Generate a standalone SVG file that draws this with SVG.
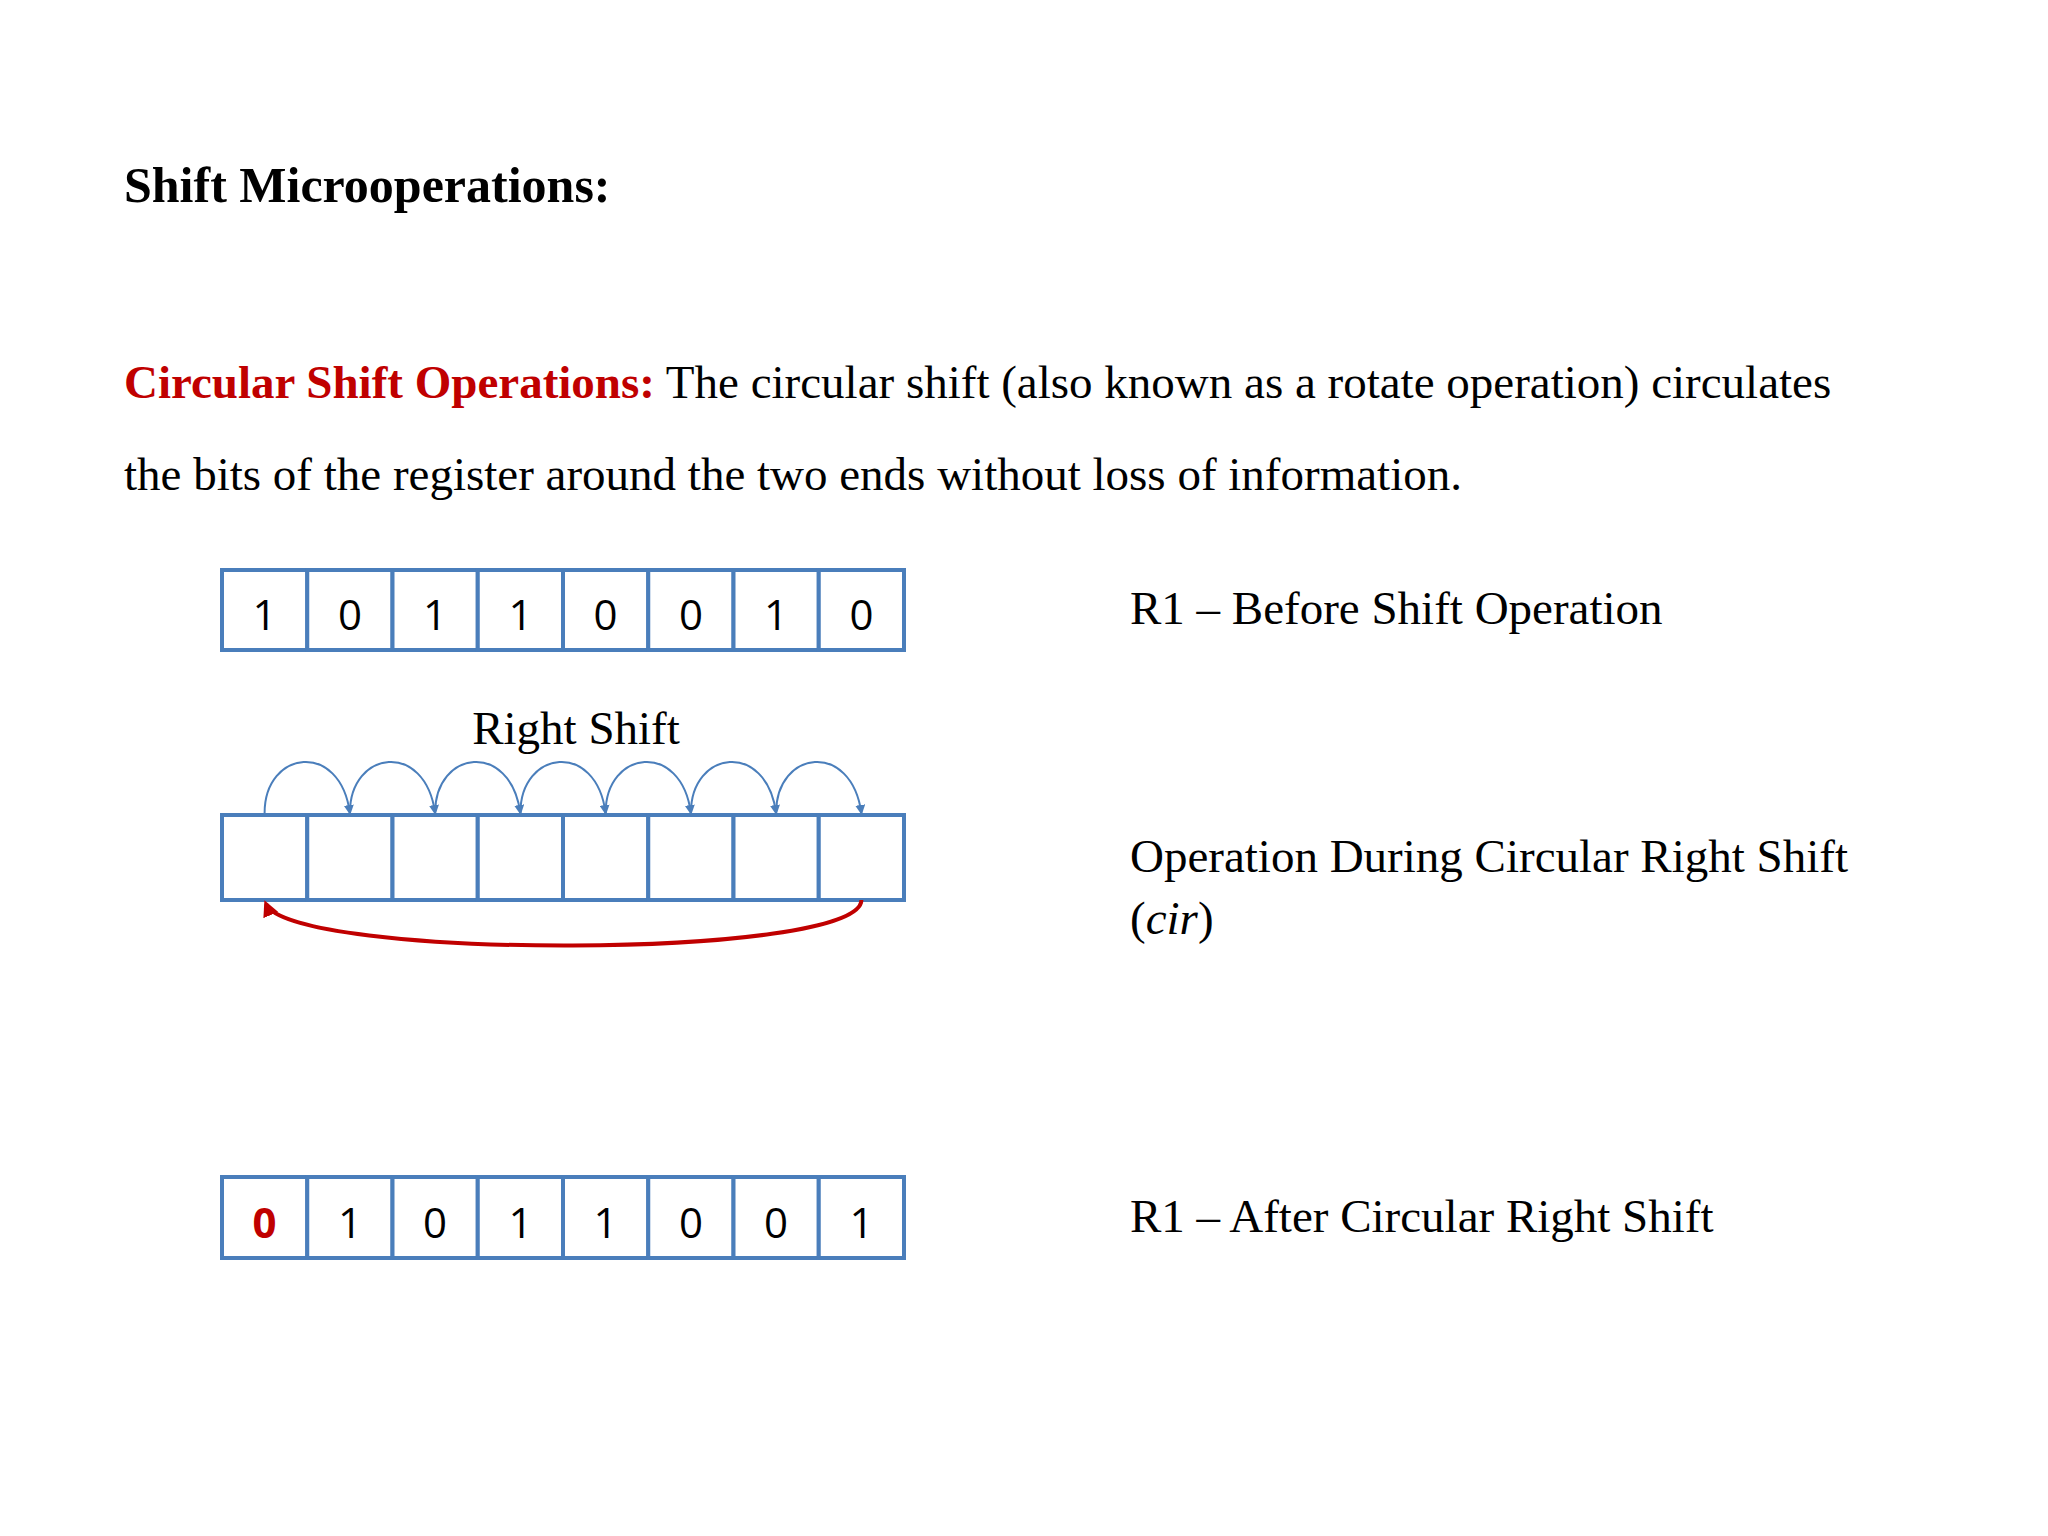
<svg xmlns="http://www.w3.org/2000/svg" width="2048" height="1536" viewBox="0 0 2048 1536">
<defs>
<style>
.t{font-family:"Liberation Serif",serif;font-size:47px;fill:#000}
.c{fill:#fff;stroke:#4A7EBB;stroke-width:4}
.d{font-family:"Open Sans","Liberation Sans",sans-serif;font-size:42px;text-anchor:middle;fill:#000}
.a{fill:none;stroke:#4A7EBB;stroke-width:2}
</style>
<marker id="ab" markerWidth="10" markerHeight="10" refX="8" refY="5" orient="auto" markerUnits="userSpaceOnUse" viewBox="0 0 10 10"><path d="M0,0 L10,5 L0,10 z" fill="#4A7EBB"/></marker>
<marker id="ar" markerWidth="16" markerHeight="16" refX="12" refY="8" orient="auto" markerUnits="userSpaceOnUse" viewBox="0 0 16 16"><path d="M0,0 L16,8 L0,16 z" fill="#C00000"/></marker>
</defs>
<rect width="2048" height="1536" fill="#fff"/>
<text class="t" x="124" y="202" style="font-weight:bold;font-size:50px">Shift Microoperations:</text>
<text class="t" x="124" y="398"><tspan style="font-weight:bold;fill:#C00000">Circular Shift Operations:</tspan> The circular shift (also known as a rotate operation) circulates</text>
<text class="t" x="124" y="490">the bits of the register around the two ends without loss of information.</text>
<g id="r1before">
<rect class="c" x="222" y="570" width="85.25" height="80"/><rect class="c" x="307.25" y="570" width="85.25" height="80"/><rect class="c" x="392.5" y="570" width="85.25" height="80"/><rect class="c" x="477.75" y="570" width="85.25" height="80"/><rect class="c" x="563" y="570" width="85.25" height="80"/><rect class="c" x="648.25" y="570" width="85.25" height="80"/><rect class="c" x="733.5" y="570" width="85.25" height="80"/><rect class="c" x="818.75" y="570" width="85.25" height="80"/>
<text class="d" x="264.6" y="630">1</text><text class="d" x="349.9" y="630">0</text><text class="d" x="435.1" y="630">1</text><text class="d" x="520.4" y="630">1</text><text class="d" x="605.6" y="630">0</text><text class="d" x="690.9" y="630">0</text><text class="d" x="776.1" y="630">1</text><text class="d" x="861.4" y="630">0</text>
</g>
<text class="t" x="1130" y="624">R1 – Before Shift Operation</text>
<text class="t" x="576" y="744" text-anchor="middle">Right Shift</text>
<g id="r1during">
<rect class="c" x="222" y="815" width="85.25" height="85"/><rect class="c" x="307.25" y="815" width="85.25" height="85"/><rect class="c" x="392.5" y="815" width="85.25" height="85"/><rect class="c" x="477.75" y="815" width="85.25" height="85"/><rect class="c" x="563" y="815" width="85.25" height="85"/><rect class="c" x="648.25" y="815" width="85.25" height="85"/><rect class="c" x="733.5" y="815" width="85.25" height="85"/><rect class="c" x="818.75" y="815" width="85.25" height="85"/>
</g>
<g id="connectors">
<path class="a" marker-end="url(#ab)" d="M264.6,813 C264.6,750 340,740 349.9,813"/>
<path class="a" marker-end="url(#ab)" d="M349.9,813 C349.9,750 425,740 435.1,813"/>
<path class="a" marker-end="url(#ab)" d="M435.1,813 C435.1,750 510,740 520.4,813"/>
<path class="a" marker-end="url(#ab)" d="M520.4,813 C520.4,750 596,740 605.6,813"/>
<path class="a" marker-end="url(#ab)" d="M605.6,813 C605.6,750 681,740 690.9,813"/>
<path class="a" marker-end="url(#ab)" d="M690.9,813 C690.9,750 766,740 776.1,813"/>
<path class="a" marker-end="url(#ab)" d="M776.1,813 C776.1,750 851,740 861.4,813"/>
<path fill="none" stroke="#C00000" stroke-width="4" marker-end="url(#ar)" d="M861.4,900 C861.4,960 290,960 266,904"/>
</g>
<text class="t" x="1130" y="872">Operation During Circular Right Shift</text>
<text class="t" x="1130" y="934">(<tspan font-style="italic">cir</tspan>)</text>
<g id="r1after">
<rect class="c" x="222" y="1177" width="85.25" height="81"/><rect class="c" x="307.25" y="1177" width="85.25" height="81"/><rect class="c" x="392.5" y="1177" width="85.25" height="81"/><rect class="c" x="477.75" y="1177" width="85.25" height="81"/><rect class="c" x="563" y="1177" width="85.25" height="81"/><rect class="c" x="648.25" y="1177" width="85.25" height="81"/><rect class="c" x="733.5" y="1177" width="85.25" height="81"/><rect class="c" x="818.75" y="1177" width="85.25" height="81"/>
<text class="d" x="264.6" y="1238" style="fill:#C00000;font-weight:bold">0</text><text class="d" x="349.9" y="1238">1</text><text class="d" x="435.1" y="1238">0</text><text class="d" x="520.4" y="1238">1</text><text class="d" x="605.6" y="1238">1</text><text class="d" x="690.9" y="1238">0</text><text class="d" x="776.1" y="1238">0</text><text class="d" x="861.4" y="1238">1</text>
</g>
<text class="t" x="1130" y="1232">R1 – After Circular Right Shift</text>
</svg>
